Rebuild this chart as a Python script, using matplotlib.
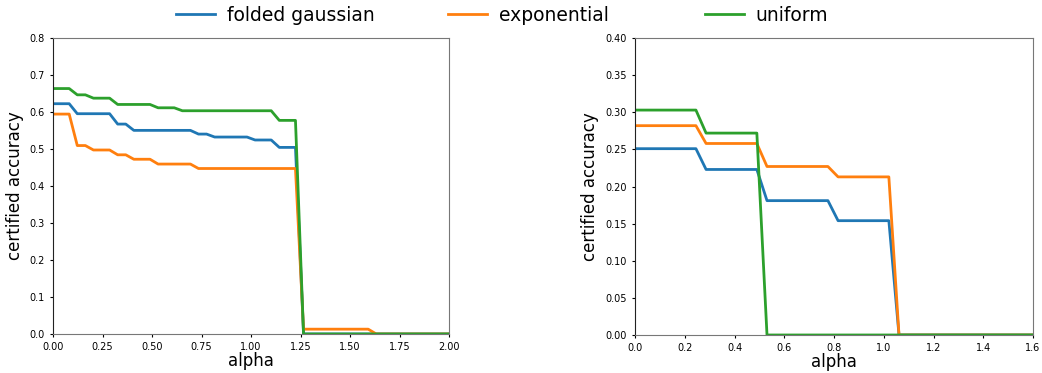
import numpy as np
import matplotlib
matplotlib.use("Agg")
import matplotlib.pyplot as plt

# alpha grid shared by both panels
alpha = np.linspace(0, 2, 50)

labels = ["folded gaussian", "exponential", "uniform"]
colors = ["#1f77b4", "#ff7f0e", "#2ca02c"]

# left panel
left_gauss = [0.622, 0.622, 0.622, 0.595, 0.595, 0.595, 0.595, 0.595, 0.567, 0.567,
              0.550, 0.550, 0.550, 0.550, 0.550, 0.550, 0.550, 0.550, 0.540, 0.540,
              0.532, 0.532, 0.532, 0.532, 0.532, 0.524, 0.524, 0.524, 0.504, 0.504,
              0.504, 0, 0, 0, 0, 0, 0, 0, 0, 0,
              0, 0, 0, 0, 0, 0, 0, 0, 0, 0]
left_expo = [0.594, 0.594, 0.594, 0.509, 0.509, 0.497, 0.497, 0.497, 0.484, 0.484,
             0.472, 0.472, 0.472, 0.459, 0.459, 0.459, 0.459, 0.459, 0.447, 0.447,
             0.447, 0.447, 0.447, 0.447, 0.447, 0.447, 0.447, 0.447, 0.447, 0.447,
             0.447, 0.013, 0.013, 0.013, 0.013, 0.013, 0.013, 0.013, 0.013, 0.013,
             0, 0, 0, 0, 0, 0, 0, 0, 0, 0]
left_unif = [0.663, 0.663, 0.663, 0.646, 0.646, 0.637, 0.637, 0.637, 0.620, 0.620,
             0.620, 0.620, 0.620, 0.611, 0.611, 0.611, 0.603, 0.603, 0.603, 0.603,
             0.603, 0.603, 0.603, 0.603, 0.603, 0.603, 0.603, 0.603, 0.577, 0.577,
             0.577, 0, 0, 0, 0, 0, 0, 0, 0, 0,
             0, 0, 0, 0, 0, 0, 0, 0, 0, 0]

# right panel
right_gauss = [0.251, 0.251, 0.251, 0.251, 0.251, 0.251, 0.251, 0.223, 0.223, 0.223,
               0.223, 0.223, 0.223, 0.181, 0.181, 0.181, 0.181, 0.181, 0.181, 0.181,
               0.154, 0.154, 0.154, 0.154, 0.154, 0.154, 0, 0, 0, 0,
               0, 0, 0, 0, 0, 0, 0, 0, 0, 0,
               0, 0, 0, 0, 0, 0, 0, 0, 0, 0]
right_expo = [0.282, 0.282, 0.282, 0.282, 0.282, 0.282, 0.282, 0.258, 0.258, 0.258,
              0.258, 0.258, 0.258, 0.227, 0.227, 0.227, 0.227, 0.227, 0.227, 0.227,
              0.213, 0.213, 0.213, 0.213, 0.213, 0.213, 0, 0, 0, 0,
              0, 0, 0, 0, 0, 0, 0, 0, 0, 0,
              0, 0, 0, 0, 0, 0, 0, 0, 0, 0]
right_unif = [0.303, 0.303, 0.303, 0.303, 0.303, 0.303, 0.303, 0.272, 0.272, 0.272,
              0.272, 0.272, 0.272, 0, 0, 0, 0, 0, 0, 0,
              0, 0, 0, 0, 0, 0, 0, 0, 0, 0,
              0, 0, 0, 0, 0, 0, 0, 0, 0, 0,
              0, 0, 0, 0, 0, 0, 0, 0, 0, 0]

left_xticks = [0, 0.25, 0.5, 0.75, 1.0, 1.25, 1.5, 1.75, 2.0]
left_yticks = [0, 0.1, 0.2, 0.3, 0.4, 0.5, 0.6, 0.7, 0.8]
right_xticks = [0, 0.2, 0.4, 0.6, 0.8, 1.0, 1.2, 1.4, 1.6]
right_yticks = [0, 0.05, 0.1, 0.15, 0.2, 0.25, 0.3, 0.35, 0.4]

fig = plt.figure(figsize=(10.42, 3.73), dpi=100)
ax1 = fig.add_axes([0.0509, 0.1046, 0.380, 0.794])
ax2 = fig.add_axes([0.6094, 0.1019, 0.382, 0.796])


def draw(ax, series, xmax, ymax, xticks, yticks, xfmt, yfmt):
    lines = []
    for y, lab, c in zip(series, labels, colors):
        ln, = ax.plot(alpha, y, color=c, lw=2, label=lab)
        lines.append(ln)
    ax.set_xlim(0, xmax)
    ax.set_ylim(0, ymax)
    ax.set_xticks(xticks)
    ax.set_yticks(yticks)
    ax.set_xticklabels([xfmt.format(v) for v in xticks])
    ax.set_yticklabels([yfmt.format(v) for v in yticks])
    ax.tick_params(labelsize=7, length=2.5, width=0.8)
    ax.set_xlabel("alpha", fontsize=12, labelpad=0)
    ax.set_ylabel("certified accuracy", fontsize=12, labelpad=4)
    ax.spines["left"].set_color("#222222")
    for s in ["top", "right", "bottom"]:
        ax.spines[s].set_color("#777777")
    return lines


lines = draw(ax1, [left_gauss, left_expo, left_unif], 2.0, 0.8,
             left_xticks, left_yticks, "{:.2f}", "{:.1f}")
draw(ax2, [right_gauss, right_expo, right_unif], 1.6, 0.4,
     right_xticks, right_yticks, "{:.1f}", "{:.2f}")

# one legend entry per slot so the gaps match the original
for ln, lab, x0 in zip(lines, labels, [176, 448, 705]):
    leg = fig.legend([ln], [lab], loc="upper left",
                     bbox_to_anchor=(x0 / 1042, 1 - 6 / 373),
                     frameon=False, fontsize=13.5, borderaxespad=0,
                     borderpad=0, handletextpad=0.6, handlelength=2.1)

fig.savefig("out.png", dpi=100)
